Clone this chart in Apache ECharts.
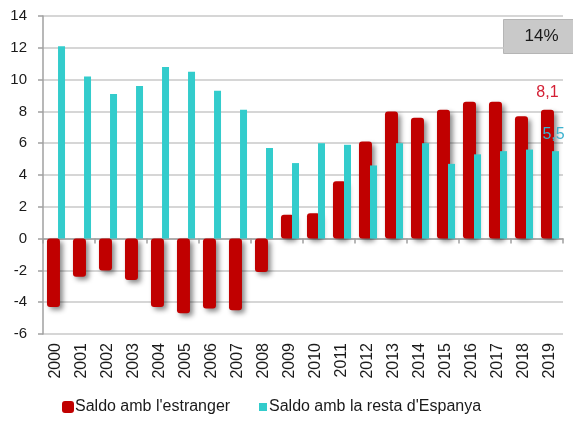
<!DOCTYPE html>
<html>
<head>
<meta charset="utf-8">
<script src="https://cdn.jsdelivr.net/npm/echarts@6/dist/echarts.min.js"></script>
<style>
html,body{margin:0;padding:0;background:#fff;}
#c{width:573px;height:421px;}
</style>
</head>
<body>
<div id="c"></div>
<script>
const years = ['2000','2001','2002','2003','2004','2005','2006','2007','2008','2009','2010','2011','2012','2013','2014','2015','2016','2017','2018','2019'];
const saldoEstranger = [-4.3,-2.4,-2.0,-2.6,-4.3,-4.7,-4.4,-4.5,-2.1,1.5,1.6,3.6,6.1,8.0,7.6,8.1,8.6,8.6,7.7,8.1];
const saldoEspanya = [12.1,10.2,9.1,9.6,10.8,10.5,9.3,8.1,5.7,4.75,6.0,5.9,4.6,6.0,6.0,4.7,5.3,5.5,5.6,5.5];
const yTicks = {min:-6, max:14, interval:2};
const boxText = '14%';
const nameEstranger = "Saldo amb l'estranger";
const nameEspanya = "Saldo amb la resta d'Espanya";

const fmt = v => String(v).replace('.', ',');
const last = years.length - 1;

const redData = saldoEstranger.map((v,i) => i === last ? {
  value: v,
  label: {show:true, position:'top', distance:9, color:'#D42035', fontSize:16,
          fontFamily:'Liberation Sans, Arial, sans-serif', formatter: p => fmt(p.value)}
} : v);
const cyanData = saldoEspanya.map((v,i) => i === last ? {
  value: v,
  label: {show:true, position:'top', distance:9, offset:[-2,0], color:'#3DB2CF', fontSize:16,
          fontFamily:'Liberation Sans, Arial, sans-serif', formatter: p => fmt(p.value)}
} : v);

const chart = echarts.init(document.getElementById('c'), null, {renderer:'canvas'});
const font = 'Liberation Sans, Arial, sans-serif';
chart.setOption({
  animation:false,
  backgroundColor:'#fff',
  textStyle:{fontFamily:font},
  grid:{left:43, right:10, top:16, bottom:87, containLabel:false},
  legend:[{
    left:62, top:399, padding:0, itemWidth:12, itemHeight:12, itemGap:10,
    icon:'roundRect',
    textStyle:{fontSize:16, color:'#1a1a1a', fontFamily:font, padding:[0,0,0,-4]},
    data:[nameEstranger]
  },{
    left:259, top:399, padding:0, itemWidth:8, itemHeight:8,
    icon:'rect',
    textStyle:{fontSize:16, color:'#1a1a1a', fontFamily:font, padding:[0,0,0,-3]},
    data:[nameEspanya]
  }],
  xAxis:[{
    type:'category', data:years, position:'bottom',
    axisLine:{show:true, onZero:true, lineStyle:{color:'#A0A0A0', width:1.5}},
    axisTick:{show:true, length:5, lineStyle:{color:'#A0A0A0', width:1.5}},
    axisLabel:{show:false},
    splitLine:{show:false}
  },{
    type:'category', data:years, position:'bottom',
    axisLine:{show:false, onZero:false},
    axisTick:{show:false},
    axisLabel:{show:true, rotate:90, margin:9, fontSize:16, color:'#1a1a1a', fontFamily:font},
    splitLine:{show:false}
  }],
  yAxis:{
    type:'value', min:yTicks.min, max:yTicks.max, interval:yTicks.interval,
    axisLine:{show:true, lineStyle:{color:'#A0A0A0', width:1.5}},
    axisTick:{show:true, length:5, lineStyle:{color:'#A0A0A0', width:1.5}},
    axisLabel:{fontSize:15, color:'#1a1a1a', margin:16, fontFamily:font},
    splitLine:{show:true, lineStyle:{color:'#C8C8C8', width:1.5}}
  },
  series:[{
    name:nameEstranger, type:'bar', xAxisIndex:0, data:redData,
    barWidth:13, barGap:'-15%',
    itemStyle:{color:'#C00000', borderRadius:3, shadowColor:'rgba(0,0,0,0.45)', shadowBlur:5, shadowOffsetX:3, shadowOffsetY:3},
    z:2
  },{
    name:nameEspanya, type:'bar', xAxisIndex:0, data:cyanData,
    barWidth:7,
    itemStyle:{color:'#33CCCC'},
    z:3
  }],
  graphic:[{
    type:'group', left:503, top:19, z:10,
    children:[{
      type:'rect', shape:{x:0, y:0, width:70, height:34},
      style:{fill:'#C9C9C9', stroke:'#B5B5B5', lineWidth:1}
    },{
      type:'text', x:38, y:17,
      style:{text:boxText, fill:'#1a1a1a', font:'17px Liberation Sans, Arial, sans-serif', align:'center', verticalAlign:'middle'}
    }]
  }]
});
</script>
</body>
</html>
